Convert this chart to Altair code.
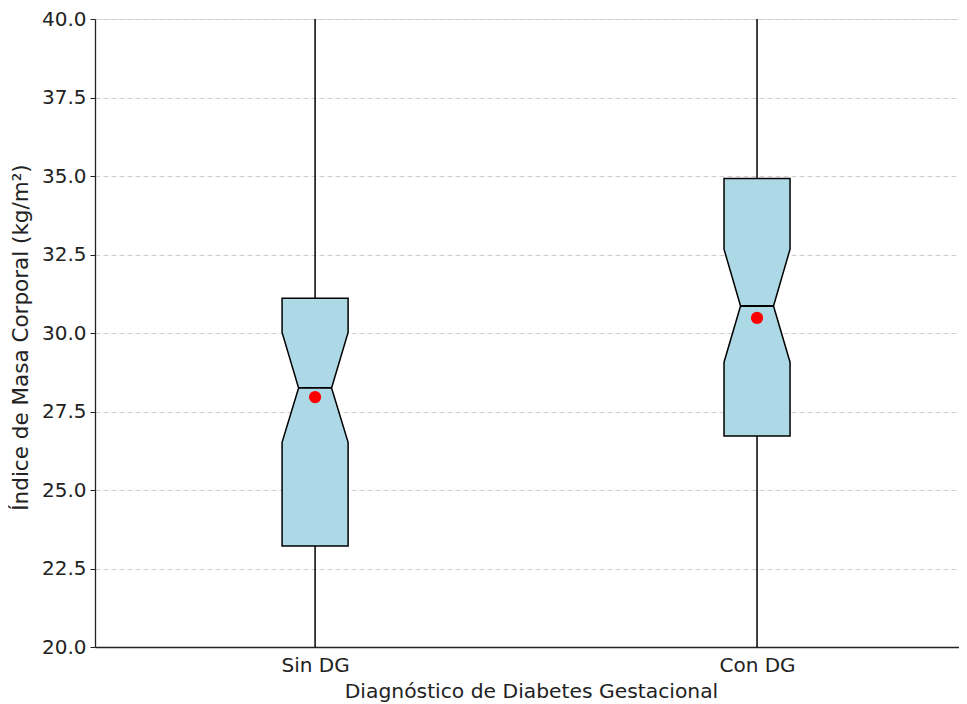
import altair as alt
import pandas as pd

# ---- data ----
groups = ["Sin DG", "Con DG"]
positions = [1, 2]
q1 = [23.22, 26.72]
notch_lo = [26.52, 29.07]
median = [28.25, 30.86]
notch_hi = [30.02, 32.67]
q3 = [31.11, 34.92]
mean = [27.96, 30.48]
whisker_lo = [14.5, 16.0]   # below the visible range
whisker_hi = [43.0, 46.0]   # above the visible range
y_ticks = [20.0, 22.5, 25.0, 27.5, 30.0, 32.5, 35.0, 37.5, 40.0]

# ---- style constants ----
BOX_HALF = 0.0747
NOTCH_HALF = 0.0373
FONT = "DejaVu Sans"
TXT = "#222222"

# polygon table for the notched boxes
rows = []
for g, p, a, b, m, c, d in zip(groups, positions, q1, notch_lo, median, notch_hi, q3):
    for i, (yv, hw) in enumerate([(a, BOX_HALF), (b, BOX_HALF), (m, NOTCH_HALF),
                                  (c, BOX_HALF), (d, BOX_HALF)]):
        rows.append({"group": g, "idx": i, "y": yv, "xl": p - hw, "xr": p + hw})
poly = pd.DataFrame(rows)

summary = pd.DataFrame({
    "group": groups, "pos": positions, "median": median, "mean": mean,
    "wlo": whisker_lo, "whi": whisker_hi,
    "ml": [p - NOTCH_HALF for p in positions], "mr": [p + NOTCH_HALF for p in positions],
})

xscale = alt.Scale(domain=[0.502, 2.457], nice=False, zero=False)
yscale = alt.Scale(domain=[20, 40], nice=False, zero=False)

xaxis = alt.Axis(values=positions, labelExpr="datum.value == 1 ? 'Sin DG' : 'Con DG'",
                 ticks=False, grid=False, labelPadding=8, labelFontSize=20,
                 titleFontSize=20.3, titlePadding=6, titleX=436, labelColor=TXT,
                 titleColor=TXT, domainColor="#222222", domainWidth=1.3, labelFont=FONT,
                 titleFont=FONT, titleFontWeight="normal")
yaxis = alt.Axis(values=y_ticks, format=".1f", grid=True, gridDash=[5, 3],
                 gridColor="#cfcfcf", gridWidth=1, tickSize=5, tickColor="#222222",
                 labelPadding=4, labelFontSize=20, titleFontSize=21.5, titlePadding=9,
                 titleY=318, labelColor=TXT, titleColor=TXT, domainColor="#222222",
                 domainWidth=1.3, labelFont=FONT, titleFont=FONT, titleFontWeight="normal")

whiskers = alt.Chart(summary).mark_rule(color="black", strokeWidth=1.5, clip=True).encode(
    x=alt.X("pos:Q", scale=xscale, axis=xaxis, title="Diagnóstico de Diabetes Gestacional"),
    y=alt.Y("wlo:Q", scale=yscale, axis=yaxis, title="Índice de Masa Corporal (kg/m²)"),
    y2="whi:Q",
)

boxes = alt.Chart(poly).mark_area(orient="horizontal", fill="#add8e6", stroke="black",
                                  strokeWidth=1.5, opacity=1, interpolate="linear").encode(
    y=alt.Y("y:Q", scale=yscale),
    x=alt.X("xl:Q", scale=xscale),
    x2="xr:Q",
    detail="group:N",
)

medians = alt.Chart(summary).mark_rule(color="black", strokeWidth=1.8).encode(
    x=alt.X("ml:Q", scale=xscale), x2="mr:Q", y=alt.Y("median:Q", scale=yscale),
)

means = alt.Chart(summary).mark_circle(color="red", size=150, opacity=1).encode(
    x=alt.X("pos:Q", scale=xscale), y=alt.Y("mean:Q", scale=yscale),
)

chart = alt.layer(whiskers, boxes, medians, means).properties(
    width=864, height=628,
    autosize=alt.AutoSizeParams(type="none"),
    padding={"left": 87, "top": 11, "right": 0, "bottom": 57},
).configure_view(strokeWidth=0, strokeOpacity=0).configure(font=FONT)

chart.save("out.html", embed_options={"renderer": "svg", "actions": False})
